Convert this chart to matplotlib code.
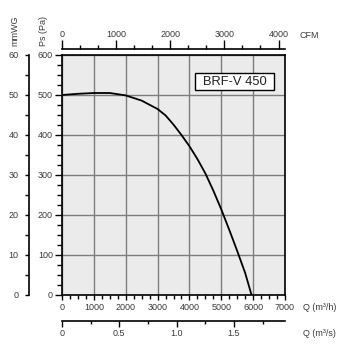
import matplotlib
matplotlib.use("Agg")
import matplotlib.pyplot as plt
from matplotlib.ticker import MultipleLocator, FixedLocator
from matplotlib.patches import Rectangle

plt.rcParams['font.family'] = ['Liberation Sans', 'DejaVu Sans']

# Fan curve: static pressure vs airflow
flow_m3h = [0, 500, 1000, 1500, 2000, 2500, 3000, 3250, 3500, 3750, 4000,
            4250, 4500, 4750, 5000, 5250, 5500, 5750, 5950]
pressure_pa = [500, 503, 505, 505, 499, 486, 465, 449, 426, 400, 372,
               340, 304, 261, 214, 163, 110, 55, 0]

model_name = "BRF-V 450"
q_max_m3h = 7000
pa_max = 600
mmwg_max = 60
cfm_ticks = [0, 1000, 2000, 3000, 4000]
m3s_ticks = [0, 0.5, 1.0, 1.5]
m3s_labels = ["0", "0.5", "1.0", "1.5"]

W, H = 363, 350
fig = plt.figure(figsize=(W / 100, H / 100), dpi=100)


def fx(px):
    return px / W


def fy(py):
    return 1 - py / H


TXT = '#3a3a3a'
FS = 6.5
L, R, T, B = 62, 285, 55, 295

# main chart
ax = fig.add_axes([fx(L), fy(B), (R - L) / W, (B - T) / H])
ax.set_facecolor('#ebebeb')
ax.set_xlim(0, q_max_m3h)
ax.set_ylim(0, pa_max)
ax.xaxis.set_major_locator(MultipleLocator(1000))
ax.xaxis.set_minor_locator(MultipleLocator(250))
ax.yaxis.set_major_locator(MultipleLocator(100))
ax.yaxis.set_minor_locator(MultipleLocator(25))
ax.grid(True, which='major', color='#7d7d7d', lw=1.0)
ax.set_axisbelow(True)
for s in ax.spines.values():
    s.set_linewidth(1.2)
    s.set_color('black')
ax.tick_params(axis='y', which='major', direction='out', length=5, width=1,
               pad=1.5, labelsize=FS, labelcolor=TXT)
ax.tick_params(axis='y', which='minor', direction='out', length=3.6, width=1)
ax.tick_params(axis='x', which='major', direction='out', length=3.5, width=1,
               pad=2.5, labelsize=FS, labelcolor=TXT)
ax.tick_params(axis='x', which='minor', direction='out', length=3.0, width=1)
ax.plot(flow_m3h, pressure_pa, color='black', lw=1.3, solid_capstyle='butt',
        solid_joinstyle='round')

# mmWG scale on the far left
ax_mm = fig.add_axes([fx(29), fy(B), 0.0001, (B - T) / H])
ax_mm.set_ylim(0, mmwg_max)
ax_mm.patch.set_visible(False)
for k in ['top', 'right', 'bottom']:
    ax_mm.spines[k].set_visible(False)
ax_mm.spines['left'].set_linewidth(1.2)
ax_mm.set_xticks([])
ax_mm.yaxis.set_major_locator(MultipleLocator(10))
ax_mm.yaxis.set_minor_locator(MultipleLocator(5))
ax_mm.tick_params(axis='y', which='major', direction='out', length=3, width=1,
                  pad=4.5, labelsize=FS, labelcolor=TXT)
ax_mm.tick_params(axis='y', which='minor', direction='out', length=3, width=1)

# CFM scale on top
ax_cfm = fig.add_axes([fx(L), fy(49), (R - L) / W, 0.0001])
ax_cfm.set_xlim(0, q_max_m3h / 1.699)
ax_cfm.patch.set_visible(False)
for k in ['left', 'right', 'bottom']:
    ax_cfm.spines[k].set_visible(False)
ax_cfm.spines['top'].set_linewidth(1.2)
ax_cfm.set_yticks([])
ax_cfm.xaxis.set_ticks_position('top')
ax_cfm.xaxis.set_label_position('top')
ax_cfm.xaxis.set_major_locator(FixedLocator(cfm_ticks))
ax_cfm.xaxis.set_minor_locator(MultipleLocator(1000 / 3))
ax_cfm.tick_params(axis='x', which='major', direction='out', length=6.5, width=1,
                   pad=1.0, labelsize=FS, labelcolor=TXT)
ax_cfm.tick_params(axis='x', which='minor', direction='out', length=3, width=1)

# m3/s scale at the bottom
ax_s = fig.add_axes([fx(L), fy(321), (R - L) / W, 0.0001])
ax_s.set_xlim(0, q_max_m3h / 3600)
ax_s.patch.set_visible(False)
for k in ['left', 'right', 'top']:
    ax_s.spines[k].set_visible(False)
ax_s.spines['bottom'].set_linewidth(1.2)
ax_s.set_yticks([])
ax_s.set_xticks(m3s_ticks)
ax_s.set_xticklabels(m3s_labels)
ax_s.xaxis.set_minor_locator(MultipleLocator(0.25))
ax_s.tick_params(axis='x', which='major', direction='out', length=4.3, width=1,
                 pad=1.8, labelsize=FS, labelcolor=TXT)
ax_s.tick_params(axis='x', which='minor', direction='out', length=2.2, width=1)

# axis names
fig.text(fx(299), fy(35), "CFM", ha='left', va='center', fontsize=FS, color=TXT)
fig.text(fx(303), fy(307), "Q (m³/h)", ha='left', va='center', fontsize=FS, color=TXT)
fig.text(fx(303), fy(333), "Q (m³/s)", ha='left', va='center', fontsize=FS, color=TXT)
fig.text(fx(15), fy(46), "mmWG", rotation=90, ha='center', va='bottom',
         fontsize=FS, color=TXT)
fig.text(fx(44), fy(46), "Ps (Pa)", rotation=90, ha='center', va='bottom',
         fontsize=FS, color=TXT)

# model label box
fig.patches.append(Rectangle((fx(195), fy(90)), (274 - 195) / W, (90 - 73) / H,
                             transform=fig.transFigure, facecolor='white',
                             edgecolor='black', lw=1.0, zorder=5))
fig.text(fx(234.5), fy(82), model_name, ha='center', va='center', fontsize=9.3,
         color='#222222', zorder=6)

fig.savefig("out.png", dpi=100)
